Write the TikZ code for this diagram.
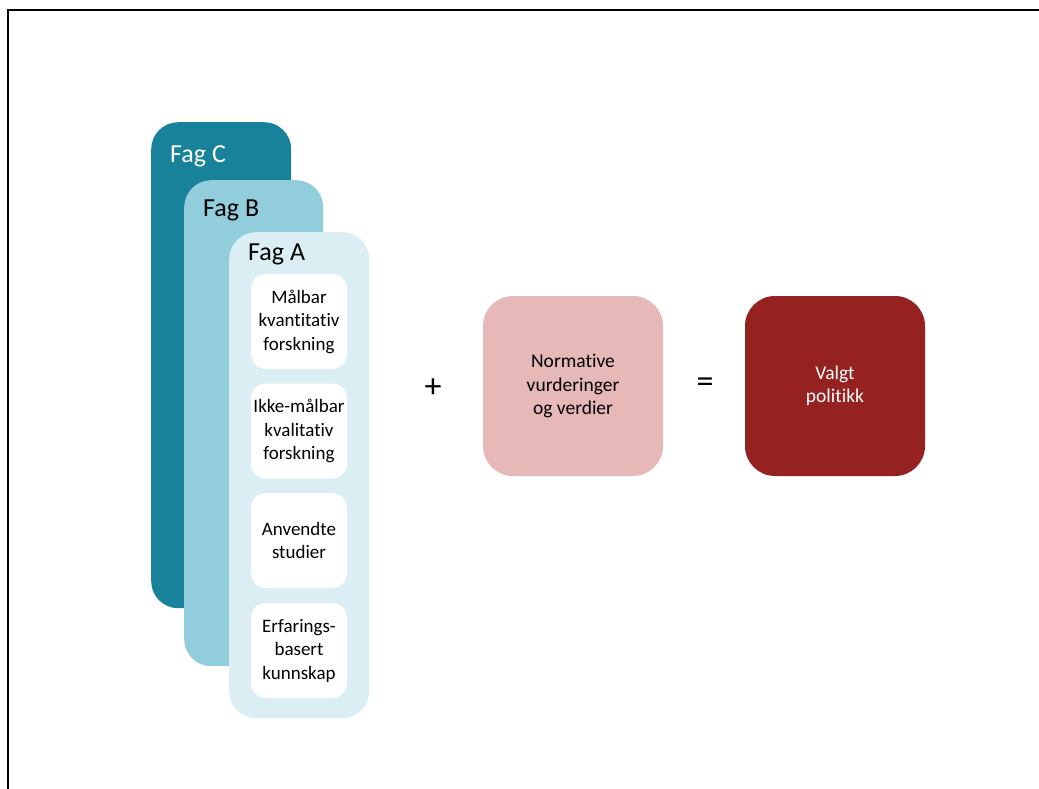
\documentclass[tikz,border=0pt]{standalone}
\usepackage{fontspec}
\setmainfont{Carlito}[Ligatures=NoCommon]
\definecolor{fagC}{HTML}{17829A}
\definecolor{fagB}{HTML}{92CDDC}
\definecolor{fagA}{HTML}{DAEEF3}
\definecolor{normc}{HTML}{E6B8B7}
\definecolor{valgtc}{HTML}{952121}
\begin{document}
\begin{tikzpicture}[x=1pt,y=-1pt,
  fag/.style={draw=none,rounded corners=27pt,inner sep=0pt,anchor=north west},
  item/.style={fill=white,draw=none,rounded corners=15pt,minimum width=96pt,minimum height=95pt,inner sep=0pt,align=center,font=\fontsize{19}{23.5}\selectfont},
  bigbox/.style={draw=none,rounded corners=30pt,minimum width=180pt,minimum height=180pt,inner sep=0pt,align=center,font=\fontsize{19.5}{23.5}\selectfont},
  faglabel/.style={anchor=west,inner sep=0pt,font=\fontsize{26}{30}\selectfont},
  op/.style={inner sep=0pt,font=\fontsize{34}{40}\selectfont}]
\useasboundingbox (0,0) rectangle (1039,789);
\fill[white] (0,0) rectangle (1039,789);
\draw[line width=2pt] (8,789) -- (8,10) -- (1039,10);
% stacked columns
\node[fag,fill=fagC,minimum width=140pt,minimum height=486pt] (C) at (151,122) {};
\node[faglabel,text=white] (Clab) at (170,156) {Fag C};
\node[fag,fill=fagB,minimum width=139pt,minimum height=486pt] (B) at (184,180) {};
\node[faglabel,text=black] (Blab) at (203,210) {Fag B};
\node[fag,fill=fagA,minimum width=140pt,minimum height=486pt] (A) at (229,232) {};
\node[faglabel,text=black] (Alab) at (248,254) {Fag A};
% items
\node[item] (i1) at (299,321.5) {Målbar\\kvantitativ\\forskning};
\node[item] (i2) at (299,431) {Ikke-målbar\\kvalitativ\\forskning};
\node[item] (i3) at (299,540.5) {Anvendte\\studier};
\node[item] (i4) at (299,650.5) {Erfarings-\\basert\\kunnskap};
% operators and result boxes
\node[op] (plus) at (433,388) {+};
\node[bigbox,fill=normc] (norm) at (573,386) {Normative\\vurderinger\\og verdier};
\node[op] (eq) at (705,385) {=};
\node[bigbox,fill=valgtc,text=white] (valgt) at (835,386) {Valgt\\politikk};
\end{tikzpicture}
\end{document}
